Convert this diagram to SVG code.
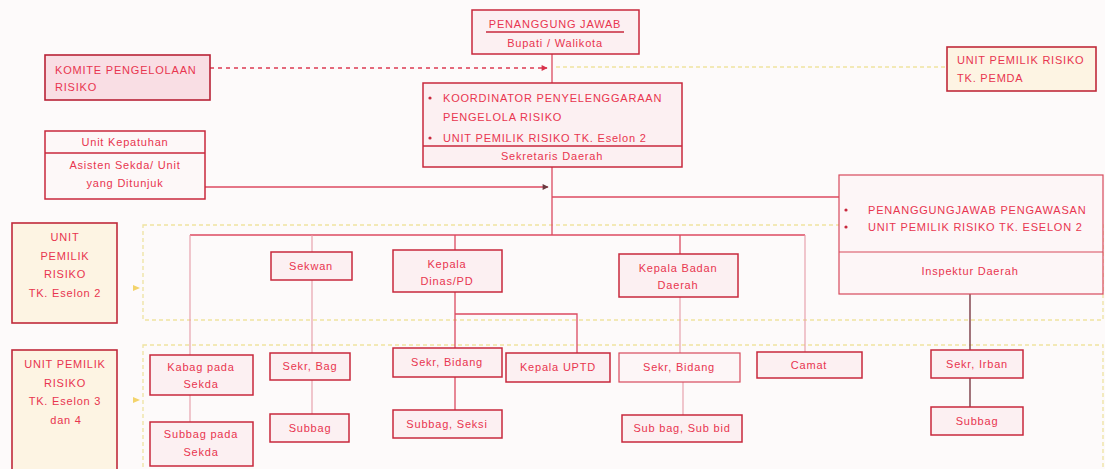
<svg xmlns="http://www.w3.org/2000/svg" width="1105" height="469" viewBox="0 0 1105 469">
<defs>
<marker id="ah" viewBox="0 0 10 10" refX="9" refY="5" markerWidth="7" markerHeight="6" orient="auto" markerUnits="userSpaceOnUse"><path d="M0,0 L10,5 L0,10 z" fill="#d8304a"/></marker>
<marker id="ahd" viewBox="0 0 10 10" refX="9" refY="5" markerWidth="8" markerHeight="6" orient="auto" markerUnits="userSpaceOnUse"><path d="M0,0 L10,5 L0,10 z" fill="#6a3a40"/></marker>
<style>
.box{fill:#fcf0f2;stroke:#c8283c;stroke-width:1.5}
.pale{fill:#fdf6f7;stroke:#d84a5c;stroke-width:1.2}
.cream{fill:#fdf4e3;stroke:#c02a3a;stroke-width:1.6}
.pink{fill:#f9dee4;stroke:#b82236;stroke-width:1.6}
.div{stroke:#c8283c;stroke-width:1.3}
text{font-family:"Liberation Sans",Arial,sans-serif;font-size:11px;fill:#e8354f;letter-spacing:0.8px}
.c{text-anchor:middle}
.con{stroke:#dc4a60;stroke-width:1.3;fill:none}
.lt{stroke:#e59aa6;stroke-width:1.1;fill:none}
.dk{stroke:#7a3a44;stroke-width:1.4;fill:none}
.yd{stroke:#efe3a0;stroke-width:1.3;fill:none;stroke-dasharray:4 3}
.bul{fill:#c8283c}
</style>
</defs>
<rect width="1105" height="469" fill="#fdfafa"/>

<g id="bands">
<rect class="yd" x="143" y="225" width="960" height="95"/>
<rect class="yd" x="143" y="345" width="960" height="130"/>
<path d="M133,285 L140,288 L133,291 z" fill="#f3d36a"/>
<path d="M133,397 L140,400 L133,403 z" fill="#f3d36a"/>
</g>

<g id="connectors">
<line class="con" x1="552" y1="54" x2="552" y2="83"/>
<line x1="210" y1="68" x2="547" y2="68" stroke="#dc3a52" stroke-width="1.3" stroke-dasharray="4 4" marker-end="url(#ah)"/>
<line x1="556" y1="67" x2="947" y2="67" stroke="#efe3a0" stroke-width="1.3" stroke-dasharray="4 3"/>
<line class="con" x1="552" y1="167" x2="552" y2="235"/>
<line class="con" x1="205" y1="187" x2="548" y2="187" marker-end="url(#ahd)"/>
<line class="con" x1="552" y1="197" x2="839" y2="197"/>
<line class="con" x1="190" y1="235" x2="805" y2="235"/>
<line class="lt" x1="190" y1="235" x2="190" y2="355"/>
<line class="lt" x1="190" y1="395" x2="190" y2="422"/>
<line class="lt" x1="312" y1="235" x2="312" y2="252"/>
<line class="lt" x1="312" y1="280" x2="312" y2="353"/>
<line class="lt" x1="312" y1="380" x2="312" y2="414"/>
<line class="con" x1="455" y1="235" x2="455" y2="250"/>
<line class="con" x1="455" y1="292" x2="455" y2="348"/>
<polyline class="con" points="455,314 577,314 577,353"/>
<line class="con" x1="455" y1="377" x2="455" y2="410"/>
<line class="con" x1="680" y1="235" x2="680" y2="254"/>
<line class="lt" x1="680" y1="297" x2="680" y2="353"/>
<line class="lt" x1="683" y1="382" x2="683" y2="415"/>
<line class="lt" x1="805" y1="235" x2="805" y2="352"/>
<line class="dk" x1="970" y1="294" x2="970" y2="350"/>
<line class="dk" x1="970" y1="378" x2="970" y2="407"/>
</g>

<g id="pj">
<rect class="box" x="472" y="10" width="167" height="44"/>
<text class="c" x="555" y="28">PENANGGUNG JAWAB</text>
<line class="div" x1="486" y1="32" x2="624" y2="32"/>
<text class="c" x="555" y="47">Bupati / Walikota</text>
</g>

<g id="komite">
<rect class="pink" x="45" y="55" width="165" height="45"/>
<text x="55" y="74">KOMITE PENGELOLAAN</text>
<text x="55" y="91">RISIKO</text>
</g>

<g id="pemda">
<rect class="cream" x="947" y="47" width="149" height="44"/>
<text x="957" y="64">UNIT PEMILIK RISIKO</text>
<text x="957" y="82">TK. PEMDA</text>
</g>

<g id="koordinator">
<rect class="box" x="423" y="83" width="259" height="84"/>
<line class="div" x1="423" y1="146" x2="682" y2="146"/>
<circle class="bul" cx="430" cy="98" r="1.6"/>
<text x="443" y="102">KOORDINATOR PENYELENGGARAAN</text>
<text x="443" y="121">PENGELOLA RISIKO</text>
<circle class="bul" cx="430" cy="138" r="1.6"/>
<text x="443" y="142">UNIT PEMILIK RISIKO TK. Eselon 2</text>
<text class="c" x="552" y="160">Sekretaris Daerah</text>
</g>

<g id="kepatuhan">
<rect class="box" x="45" y="131" width="160" height="68" style="fill:#fdf8f8"/>
<line class="div" x1="45" y1="153" x2="205" y2="153"/>
<text class="c" x="125" y="146">Unit Kepatuhan</text>
<text class="c" x="125" y="169">Asisten Sekda/ Unit</text>
<text class="c" x="125" y="187">yang Ditunjuk</text>
</g>

<g id="pengawasan">
<rect class="pale" x="839" y="175" width="264" height="119"/>
<line x1="839" y1="252" x2="1103" y2="252" stroke="#d84a5c" stroke-width="1.2"/>
<circle class="bul" cx="846" cy="210" r="1.6"/>
<text x="868" y="214">PENANGGUNGJAWAB PENGAWASAN</text>
<circle class="bul" cx="846" cy="227" r="1.6"/>
<text x="868" y="231">UNIT PEMILIK RISIKO TK. ESELON 2</text>
<text class="c" x="970" y="275">Inspektur Daerah</text>
</g>

<g id="upr-eselon2">
<rect class="cream" x="12" y="223" width="105" height="100"/>
<text class="c" x="65" y="241">UNIT</text>
<text class="c" x="65" y="260">PEMILIK</text>
<text class="c" x="65" y="278">RISIKO</text>
<text class="c" x="65" y="297">TK. Eselon 2</text>
</g>

<g id="upr-eselon34">
<rect class="cream" x="12" y="350" width="105" height="130"/>
<text class="c" x="65" y="368">UNIT PEMILIK</text>
<text class="c" x="65" y="387">RISIKO</text>
<text class="c" x="65" y="405">TK. Eselon 3</text>
<text class="c" x="66" y="424">dan 4</text>
</g>

<g id="sekwan"><rect class="box" x="271" y="252" width="81" height="28"/><text class="c" x="311" y="270">Sekwan</text></g>
<g id="sekr-bag"><rect class="box" x="270" y="353" width="80" height="27"/><text class="c" x="310" y="370">Sekr, Bag</text></g>
<g id="subbag1"><rect class="box" x="270" y="414" width="79" height="28"/><text class="c" x="310" y="432">Subbag</text></g>

<g id="kabag"><rect class="box" x="150" y="355" width="103" height="40"/><text class="c" x="201" y="371">Kabag pada</text><text class="c" x="201" y="388">Sekda</text></g>
<g id="subbag-sekda"><rect class="box" x="150" y="422" width="103" height="44"/><text class="c" x="201" y="438">Subbag pada</text><text class="c" x="201" y="456">Sekda</text></g>

<g id="kadis"><rect class="box" x="393" y="250" width="109" height="42"/><text class="c" x="447" y="268">Kepala</text><text class="c" x="447" y="285">Dinas/PD</text></g>
<g id="sekr-bidang1"><rect class="box" x="393" y="348" width="109" height="29"/><text class="c" x="447" y="366">Sekr, Bidang</text></g>
<g id="uptd"><rect class="box" x="506" y="353" width="104" height="29"/><text class="c" x="558" y="371">Kepala UPTD</text></g>
<g id="subbag-seksi"><rect class="box" x="393" y="410" width="109" height="28"/><text class="c" x="447" y="428">Subbag, Seksi</text></g>

<g id="kaban"><rect class="box" x="619" y="254" width="119" height="43"/><text class="c" x="678" y="272">Kepala Badan</text><text class="c" x="678" y="289">Daerah</text></g>
<g id="sekr-bidang2"><rect class="pale" x="619" y="353" width="121" height="29"/><text class="c" x="679" y="371">Sekr, Bidang</text></g>
<g id="subbag-subbid"><rect class="box" x="622" y="415" width="120" height="27"/><text class="c" x="682" y="432">Sub bag, Sub bid</text></g>

<g id="camat"><rect class="box" x="757" y="352" width="105" height="26"/><text class="c" x="809" y="369">Camat</text></g>
<g id="sekr-irban"><rect class="box" x="931" y="350" width="92" height="28"/><text class="c" x="977" y="368">Sekr, Irban</text></g>
<g id="subbag2"><rect class="box" x="931" y="407" width="92" height="28"/><text class="c" x="977" y="425">Subbag</text></g>
</svg>
